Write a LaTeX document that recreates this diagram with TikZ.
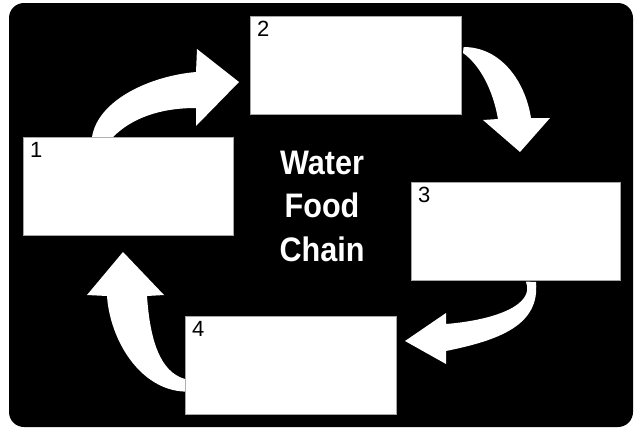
\documentclass[tikz,border=0pt]{standalone}
\usepackage{fontspec}
\setmainfont{Liberation Sans}
\newfontfamily\titlefont[FakeStretch=0.9]{Liberation Sans}
\tikzset{
  box/.style={draw=gray!70, line width=0.6pt, fill=white, minimum width=210pt, minimum height=98pt, anchor=north west, inner sep=0pt},
  num/.style={anchor=north west, inner xsep=7pt, inner ysep=5pt, font=\fontsize{22}{24}\selectfont},
  arrowfill/.style={fill=white}
}
\begin{document}
\begin{tikzpicture}[x=1pt,y=-1pt]
\fill[white] (0,0) rectangle (638,429);
\fill[black, rounded corners=15pt] (9,3) rectangle (633,427);
\node[box, minimum width=210pt, label={[num]north west:1}] (b1) at (23,137) {};
\node[box, minimum width=211pt, label={[num]north west:2}] (b2) at (250,16) {};
\node[box, minimum width=209pt, label={[num]north west:3}] (b3) at (411,182) {};
\node[box, minimum width=211pt, label={[num]north west:4}] (b4) at (185,316) {};
\node[align=center, text=white, font=\titlefont\bfseries\fontsize{34}{43.5}\selectfont] (title) at (322,206) {Water\\Food\\Chain};
% curved arrows between the boxes
\fill[arrowfill] (b1.north west) ++(69,0) .. controls (98,100) and (150,76) .. (196,72) -- (197,49) -- (239,82) -- (196,126) -- (196,108) .. controls (160,108) and (132,118) .. (113,137) -- cycle;
\fill[arrowfill] (b2.north east) ++(2,31) .. controls (500,47) and (525,80) .. (531,118) -- (550,118) -- (520,152) -- (483,120) -- (498,119) .. controls (493,90) and (480,65) .. (463,53) -- cycle;
\fill[arrowfill] (b3.south east) ++(-94,1) -- (536,282) .. controls (540,325) and (500,340) .. (446,351) -- (446,364) -- (405,341) -- (446,313) -- (446,324) .. controls (495,320) and (535,305) .. (526,282) -- cycle;
\fill[arrowfill] (b4.south west) ++(0,-23) .. controls (140,390) and (110,340) .. (107,296) -- (87,295) -- (123,252) -- (164,295) -- (147,296) .. controls (150,340) and (160,372) .. (185,379) -- cycle;
\end{tikzpicture}
\end{document}
